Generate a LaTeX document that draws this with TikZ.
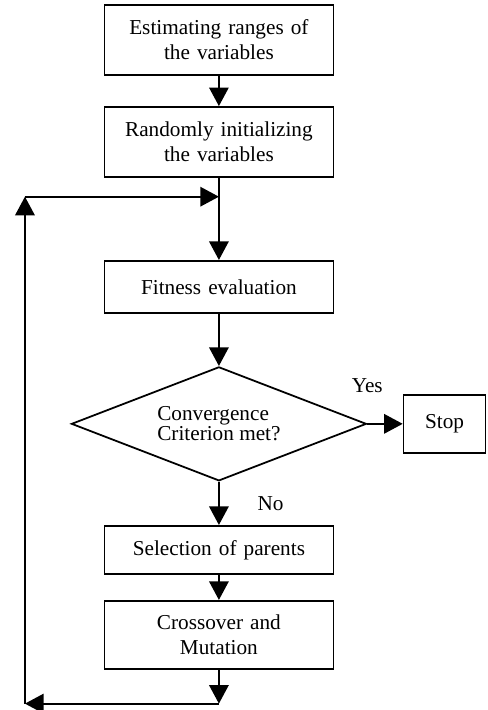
\documentclass[tikz,border=0pt]{standalone}
\usepackage{fontspec}
\setmainfont{Liberation Serif}
\usetikzlibrary{shapes.geometric,arrows.meta,positioning,calc}

\begin{document}
\begin{tikzpicture}[node distance=2cm, auto, line width=1pt, font=\fontsize{12}{14}\selectfont,
        block/.style={rectangle, draw, text width=125pt, align=center, minimum width=129.4pt, inner sep=0pt},
        decision/.style={diamond, draw, shape aspect=2.59, minimum width=166.7pt, minimum height=64.4pt, inner sep=0pt, align=left, font=\fontsize{12}{10.2}\selectfont},
        line/.style={draw, -{Triangle[length=10.5pt,width=11pt]}}]
        \useasboundingbox (0,0) rectangle (275.2pt,-401.2pt);
        \node [block, minimum height=39.5pt] (est) at (123.7pt,-22.6pt) {Estimating ranges of\\the variables};
        \node [block, below of=est, node distance=57.6pt, minimum height=39.5pt] (init) {Randomly initializing\\the variables};
        \node [block, below of=init, node distance=81.9pt, minimum height=29.4pt] (fit) {Fitness evaluation};
        \node [decision, below of=fit, node distance=77.4pt] (conv) {Convergence\\Criterion met?};
        \node [block, right of=conv, node distance=127.5pt, text width=40pt, minimum width=46.3pt, minimum height=32.8pt] (stop) {Stop};
        \node [block, below of=conv, node distance=71.2pt, minimum height=27.1pt] (sel) {Selection of parents};
        \node [block, below of=sel, node distance=48pt, minimum height=38.4pt] (cross) {Crossover and\\Mutation};

        % loop back corners
        \coordinate (join) at ($(init.south)+(0,-10.7pt)$);
        \coordinate (back) at ($(cross.south)+(0,-19.2pt)$);
        \coordinate (retbot) at ($(back)+(-109.6pt,0)$);
        \coordinate (rettop) at (retbot |- join);

        \path [line] (est) -- (init);
        \path [line] (init) -- (fit);
        \path [line] (fit) -- (conv);
        \path [line] (conv) -- node [pos=0, above=14pt] {Yes} (stop);
        \path [line] (conv) -- node [right=18pt] {No} (sel);
        \path [line] (sel) -- (cross);
        \path [line] (cross) -- (back);
        \path [line] (back) -- (retbot);
        \path [line] (retbot) -- (rettop);
        \path [line] (rettop) -- (join);
    \end{tikzpicture}
\end{document}
